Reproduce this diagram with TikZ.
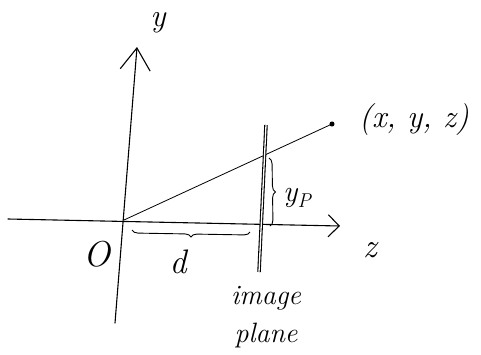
\documentclass[tikz,border=0pt]{standalone}
\usetikzlibrary{arrows.meta,decorations.pathreplacing}
\begin{document}
\begin{tikzpicture}[x=1pt,y=-1pt,
  axis/.style={line width=1.1pt,line cap=round},
  ray/.style={line width=0.8pt},
  plane/.style={double,double distance=1.3pt,line width=1.1pt},
  bracestyle/.style={line width=0.9pt,decorate,decoration={brace,amplitude=6pt}},
  lab/.style={inner sep=0pt},
  fs/.style={font=\fontsize{#1}{#1}\selectfont\itshape}]
\useasboundingbox (0,0) rectangle (481,354);
\coordinate (O) at (124,220);
\coordinate (zl) at (8,219);
\coordinate (zr) at (340,226);
\coordinate (yb) at (115,323);
\coordinate (yt) at (137,47);
\coordinate (pt) at (266,125);
\coordinate (pb) at (259,272);
\draw[axis,-{Straight Barb[length=11pt,width=22pt,line width=1.1pt]}] (zl) -- (zr);
\draw[axis,-{Straight Barb[length=22pt,width=30pt,line width=1.1pt]}] (yb) -- (yt);
\node[circle,fill,inner sep=1.8pt] (P) at (332,124) {};
\draw[ray] (O) -- (P.center);
\draw[plane] (pt) -- (pb);
\coordinate (b1t) at (269,158);
\coordinate (b1b) at (270,226);
\draw[bracestyle] (b1t) -- (b1b);
\coordinate (b2l) at (132,230);
\coordinate (b2r) at (250,232);
\draw[bracestyle] (b2r) -- (b2l);
\node[lab,fs=32] (ylab) at (158,23) {y};
\node[lab,fs=32] (Plab) at (414,120) {(x, y, z)};
\node[lab,fs=30] (yplab) at (297,198) {y\raisebox{-6pt}{\fontsize{20}{20}\selectfont P}};
\node[lab,fs=36] (Olab) at (97,254) {O};
\node[lab,fs=34] (dlab) at (178,262) {d};
\node[lab,fs=34] (zlab) at (370,250) {z};
\node[lab,font=\fontsize{28}{38}\selectfont\itshape,align=center] (iplab) at (266,317) {image\\plane};
\end{tikzpicture}
\end{document}
